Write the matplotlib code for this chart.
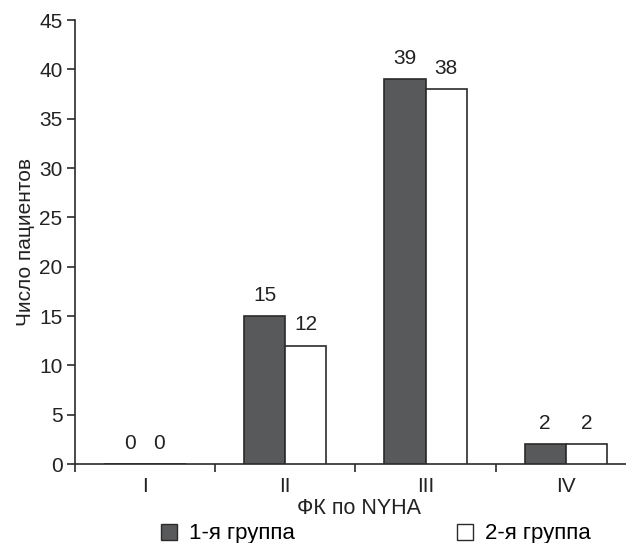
import matplotlib
matplotlib.use("Agg")
import matplotlib.pyplot as plt
from matplotlib.patches import Patch
import numpy as np

plt.rcParams['font.family'] = ['Liberation Sans', 'DejaVu Sans']

categories = ['I', 'II', 'III', 'IV']
group1 = [0, 15, 39, 2]
group2 = [0, 12, 38, 2]
series_names = ['1-я группа', '2-я группа']
yticks = [0, 5, 10, 15, 20, 25, 30, 35, 40, 45]

dark = '#58595b'
edge = '#2b2b2b'
txt = '#222222'
fs = 15

fig = plt.figure(figsize=(6.26, 5.43), dpi=100)
ax = fig.add_axes([75 / 626, 79 / 543, 551 / 626, 444 / 543])

x = np.arange(len(categories))
w = 0.293
b1 = ax.bar(x - w / 2, group1, w, color=dark, edgecolor=edge, linewidth=1.2, zorder=3)
b2 = ax.bar(x + w / 2, group2, w, color='white', edgecolor=edge, linewidth=1.2, zorder=3)

for bars, vals in ((b1, group1), (b2, group2)):
    for rect, v in zip(bars, vals):
        # the two zero labels sit a little closer together
        dx = 0
        if v == 0:
            dx = 4 if rect in b1.patches else -5
        ax.annotate(str(v), (rect.get_x() + rect.get_width() / 2, v),
                    xytext=(dx, 8), textcoords='offset points',
                    ha='center', va='bottom', fontsize=fs, color=txt)

ax.set_xlim(-0.5, 3.43)
ax.set_ylim(0, 45)
ax.set_yticks(yticks)
ax.set_yticklabels([str(t) for t in yticks], fontsize=fs, color=txt)

# boundary ticks between classes, labels at class centres
ax.set_xticks([-0.5, 0.5, 1.5, 2.5])
ax.set_xticklabels([])
ax.set_xticks(x, minor=True)
ax.set_xticklabels(categories, minor=True, fontsize=fs, color=txt)
ax.tick_params(axis='x', which='minor', length=0, pad=9)
ax.tick_params(axis='x', which='major', length=6, width=1.2, direction='out', color=edge)
ax.tick_params(axis='y', length=6, width=1.2, direction='out', color=edge, pad=3)

for s in ('top', 'right'):
    ax.spines[s].set_visible(False)
for s in ('left', 'bottom'):
    ax.spines[s].set_linewidth(1.2)
    ax.spines[s].set_color(edge)

ax.set_ylabel('Число пациентов', fontsize=15, color=txt, labelpad=3)
ax.set_xlabel('ФК по NYHA', fontsize=15.5, color=txt, labelpad=2)
ax.xaxis.label.set_x((359 - 75) / 551)

handles = [Patch(facecolor=dark, edgecolor=edge, linewidth=1.0),
           Patch(facecolor='white', edgecolor=edge, linewidth=1.0)]
fig.legend(handles, series_names, loc='center', bbox_to_anchor=(376 / 626, 1 - 534 / 543),
           ncol=2, frameon=False, fontsize=16, handlelength=0.7, handleheight=0.7,
           handletextpad=0.55, columnspacing=7.3, borderpad=0)

fig.savefig('out.png', dpi=100)
